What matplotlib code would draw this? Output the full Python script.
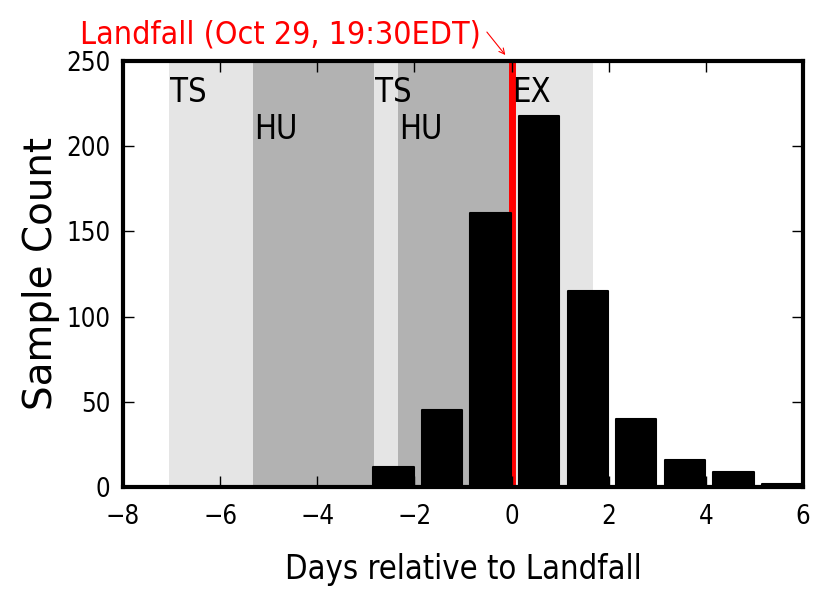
import matplotlib
matplotlib.use('Agg')
import matplotlib.pyplot as plt
from matplotlib.font_manager import FontProperties

# condensed face for the horizontal text
def narrow(size):
    return FontProperties(family='DejaVu Sans', stretch='condensed', size=size)

# sample counts per day relative to landfall (bins start at day_start)
day_start = [-3, -2, -1, 0, 1, 2, 3, 4, 5]
counts = [12, 45, 161, 218, 115, 40, 16, 9, 2]

# storm stage periods (days relative to landfall)
stage_names = ['TS', 'HU', 'TS', 'HU', 'EX']
stage_start = [-7.05, -5.33, -2.84, -2.33, 0.0]
stage_end = [-5.33, -2.84, -2.33, 0.0, 1.67]
stage_color = ['#e5e5e5', '#b2b2b2', '#e5e5e5', '#b2b2b2', '#e5e5e5']
stage_label_y = [226, 204, 226, 204, 226]

fig = plt.figure(figsize=(8.17, 5.90), dpi=100)
ax = fig.add_axes([0.1506, 0.1746, 0.8324, 0.722])

for x0, x1, c in zip(stage_start, stage_end, stage_color):
    ax.axvspan(x0, x1, color=c, lw=0, zorder=0)
for name, x0, y in zip(stage_names, stage_start, stage_label_y):
    ax.text(x0 + 0.02, y, name, fontproperties=narrow(23.5), va='baseline',
            ha='left', zorder=3)

# landfall marker
ax.axvline(0, color='red', lw=5, zorder=1)

bars = ax.bar([d + 0.15 for d in day_start], counts, width=0.83, align='edge',
              color='black', edgecolor='black', lw=1.5, zorder=2)
for b in bars:
    b.set_joinstyle('round')

ax.set_xlim(-8, 6)
ax.set_ylim(0, 250)
ax.set_xticks(range(-8, 7, 2))
ax.set_yticks(range(0, 251, 50))

for s in ax.spines.values():
    s.set_linewidth(3)
ax.tick_params(direction='in', length=8, width=1, top=True, right=True)
ax.tick_params(axis='x', pad=12)
ax.tick_params(axis='y', pad=9)
for lbl in ax.get_xticklabels() + ax.get_yticklabels():
    lbl.set_fontproperties(narrow(18.5))

ax.set_xlabel('Days relative to Landfall', fontproperties=narrow(23.5), labelpad=17)
fig.text(0.05, 0.536, 'Sample Count', rotation=90, fontsize=28,
         family='DejaVu Sans', ha='center', va='center')

fig.text(80 / 817, 1 - 43 / 590, 'Landfall (Oct 29, 19:30EDT)', color='red',
         fontproperties=narrow(23), ha='left', va='baseline')
ax.annotate('', xy=(-0.13, 253.5), xytext=(-0.51, 267), xycoords='data',
            textcoords='data', annotation_clip=False,
            arrowprops=dict(arrowstyle='->', color='red', lw=0.8,
                            shrinkA=0, shrinkB=0))

fig.savefig('out.png', dpi=100)
